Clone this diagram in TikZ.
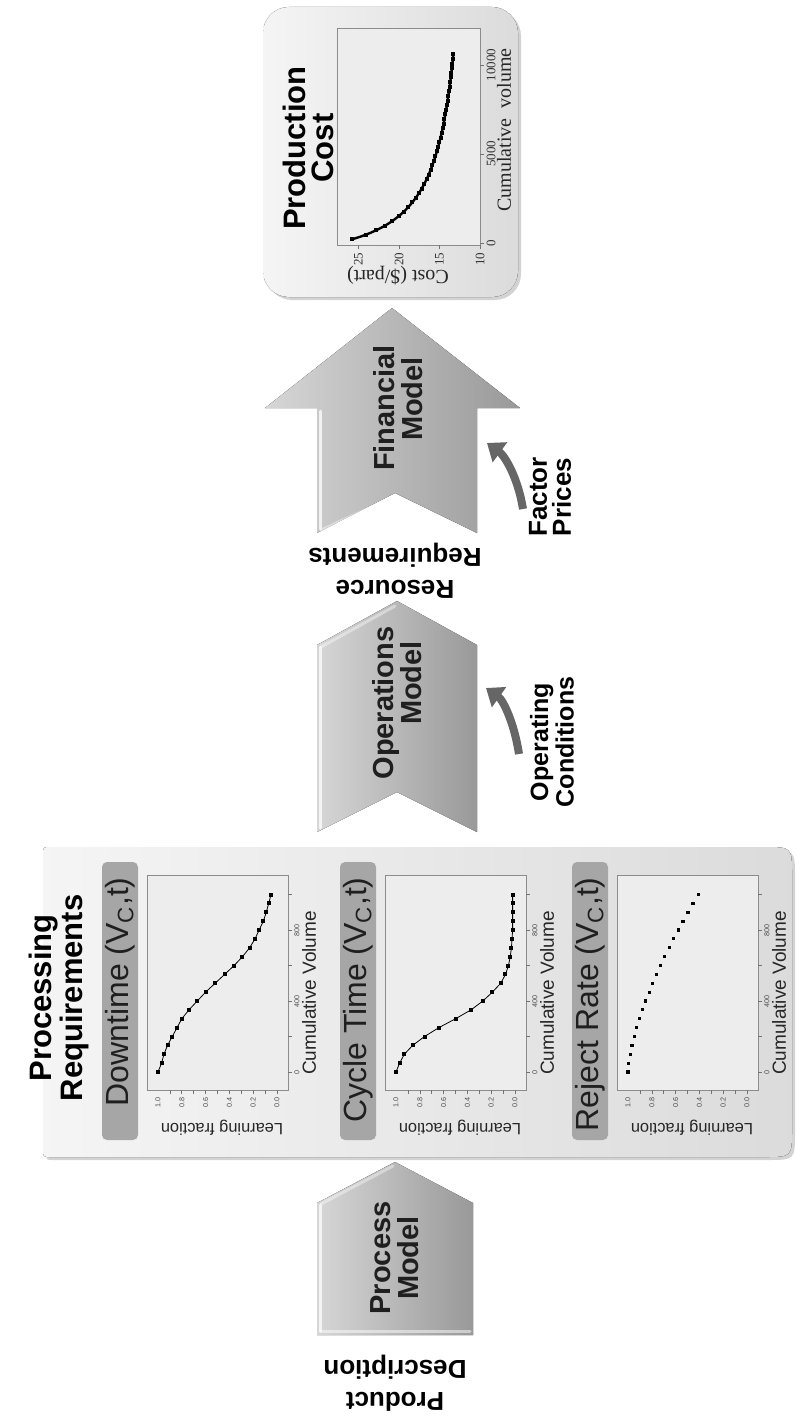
\documentclass[tikz,border=0pt]{standalone}
\usepackage{fontspec}
\setmainfont{Liberation Sans}
\newfontfamily\timesfont{Liberation Serif}
\usetikzlibrary{arrows.meta,shadows}
\definecolor{arrowlight}{gray}{0.84}
\definecolor{arrowdark}{gray}{0.60}
\definecolor{hdrgray}{gray}{0.65}
\definecolor{panellight}{gray}{0.96}
\definecolor{paneldark}{gray}{0.86}
\definecolor{curvegray}{gray}{0.40}
\definecolor{inkgray}{gray}{0.12}
\begin{document}
\begin{tikzpicture}[x=0.5pt,y=-0.5pt,
  bigarrow/.style={left color=arrowlight, right color=arrowdark, draw=none},
  bevel/.style={draw=white, line width=1.5pt, opacity=0.75, line cap=round},
  boxtitle/.style={font=\bfseries\fontsize{15.5}{14}\selectfont, align=center, rotate=90, inner sep=0pt},
  arrowtext/.style={font=\bfseries\fontsize{14.5}{14}\selectfont, align=center, rotate=90, inner sep=0pt, text=inkgray},
  flowlabel/.style={font=\bfseries\fontsize{13}{16}\selectfont, align=center, rotate=180, inner sep=0pt},
  sidelabel/.style={font=\bfseries\fontsize{12.5}{11.5}\selectfont, align=center, rotate=90, inner sep=0pt},
  hdrbar/.style={fill=hdrgray, rounded corners=2.5pt},
  hdrtext/.style={font=\fontsize{16}{16}\selectfont, rotate=90, anchor=east, inner sep=0pt, text=inkgray},
  plotframe/.style={draw=black!45, line width=0.4pt, fill=black!7},
  tickmark/.style={draw=black!55, line width=0.3pt},
  ticklabel/.style={font=\fontsize{3.6}{4}\selectfont, text=black!70, rotate=90, inner sep=0pt},
  axislabel/.style={font=\fontsize{9.5}{10}\selectfont, text=black!85, inner sep=0pt},
  serifticks/.style={font=\timesfont\fontsize{6.5}{7}\selectfont, text=black!80, rotate=90, inner sep=0pt},
  seriflabel/.style={font=\timesfont\fontsize{10}{10}\selectfont, text=black!85, inner sep=0pt},
  feed/.style={draw=curvegray, line width=4pt, -{Triangle[length=8pt,width=12pt]}},
  shadowed/.style={drop shadow={shadow xshift=1.5pt,shadow yshift=-1.5pt,opacity=0.35}}
]
\useasboundingbox (0,0) rectangle (797,1423);

% ---------------- Production Cost box ----------------
\fill[shadowed, left color=panellight, right color=paneldark, rounded corners=13pt] (263,7) rectangle (518,297);
\node[boxtitle] (pctitle) at (308,148) {Production\\Cost};
\filldraw[plotframe] (337,28) rectangle (480,245);
\foreach \c/\t in {25/25,20/20,15/15,10/10}{
  \draw[tickmark] ({480-(\c-10)*8.1},245) -- ({480-(\c-10)*8.1},249);
  \node[serifticks] at ({480-(\c-10)*8.1},259) {\t};
}
\foreach \yy/\t in {243/0,154/5000,65/10000}{
  \draw[tickmark] (480,\yy) -- (484,\yy);
  \node[serifticks] at (491,\yy) {\t};
}
\node[seriflabel, rotate=180] (costlab) at (398,276) {Cost (\$/part)};
\node[seriflabel, rotate=90] (cvlab) at (504,130) {Cumulative\ \ volume};
\draw[line width=1.2pt] plot[domain=200:10600, samples=60, smooth]
  ({480-141.75*exp(-0.8*ln(1+\x/1500))},{243-0.0178*\x});
\foreach \v in {200,460,...,10600}{
  \fill ({480-141.75*exp(-0.8*ln(1+\v/1500))-2},{243-0.0178*\v-2}) rectangle ++(4,4);
}

% ---------------- Financial Model arrow ----------------
\fill[bigarrow] (317,533) -- (317,408) -- (265,408) -- (392,308) -- (520,408) -- (477,408) -- (477,533) -- (395,493) -- cycle;
\draw[bevel] (320,529) -- (320,411);
\draw[bevel, opacity=0.4] (321,530) -- (395,496);
\node[arrowtext] (fin) at (398,408) {Financial\\\hspace*{9pt}Model};

% Factor Prices
\node[sidelabel, font=\bfseries\fontsize{13}{12}\selectfont] (fp) at (550,497) {Factor\\Prices};
\coordinate (fptail) at (523,509);
\coordinate (fphead) at (487,443);
\draw[feed] (fptail) .. controls (518,478) and (505,456) .. (fphead);

% Resource Requirements
\node[flowlabel] (rr) at (395,571) {Resource\\Requirements};

% ---------------- Operations Model arrow ----------------
\fill[bigarrow] (317,832) -- (317,645) -- (397,601) -- (477,645) -- (477,832) -- (397,792) -- cycle;
\draw[bevel] (320,828) -- (320,647);
\draw[bevel, opacity=0.4] (321,647) -- (395,606);
\node[arrowtext] (ops) at (397,703) {Operations\\\hspace*{20pt}Model};

% Operating Conditions
\node[sidelabel] (oc) at (552,742) {Operating\\Conditions};
\coordinate (octail) at (519,754);
\coordinate (ochead) at (486,688);
\draw[feed] (octail) .. controls (514,722) and (503,700) .. (ochead);

% ---------------- Processing Requirements panel ----------------
\fill[shadowed, left color=panellight, right color=paneldark]
  (51,847) -- (764,847) .. controls (792,847) .. (792,875) -- (792,1129)
  .. controls (792,1157) .. (764,1157) -- (51,1157) .. controls (43,1157) .. (43,1149)
  -- (43,855) .. controls (43,847) .. (51,847) -- cycle;
\node[boxtitle, font=\bfseries\fontsize{15.5}{14}\selectfont] (prtitle) at (59,998) {Processing\\Requirements};

\foreach \off/\nm/\lab in {0/dt/Downtime, 238/ct/Cycle Time, 470/rj/Reject Rate}{
  \fill[hdrbar] (102+\off,862) rectangle (138+\off,1140);
  \node[hdrtext] (hdr\nm) at (120+\off,877) {\lab\ (V\textsubscript{C},t)};
  \filldraw[plotframe] (147+\off,875) rectangle (288+\off,1090);
  \foreach \f in {0,0.1,...,1.0}{
    \draw[tickmark] ({277-119*\f+\off},1090) -- ({277-119*\f+\off},1094);
  }
  \foreach \f/\t in {1.0/1.0,0.8/0.8,0.6/0.6,0.4/0.4,0.2/0.2,0.0/0.0}{
    \node[ticklabel] at ({277-119*\f+\off},1102) {\t};
  }
  \foreach \v in {0,200,...,1000}{
    \draw[tickmark] (288+\off,{1072-0.1775*\v}) -- (292+\off,{1072-0.1775*\v});
  }
  \foreach \v in {0,400,800}{
    \node[ticklabel] at (297+\off,{1072-0.1775*\v}) {\v};
  }
  \node[axislabel, rotate=90] (cv\nm) at (309+\off,993) {Cumulative Volume};
  \node[axislabel, rotate=180, font=\fontsize{8.2}{9}\selectfont] (lf\nm) at (222+\off,1128) {Learning fraction};
}

% Downtime data
\draw[line width=0.4pt] (158,1072) \foreach \v/\f in {50/0.97,100/0.95,150/0.92,200/0.88,250/0.84,300/0.80,350/0.74,400/0.67,450/0.60,500/0.52,550/0.44,600/0.36,650/0.29,700/0.23,750/0.185,800/0.15,850/0.115,900/0.09,950/0.07,1000/0.05}{ -- ({277-119*\f},{1072-0.1775*\v}) };
\foreach \v/\f in {0/1.0,50/0.97,100/0.95,150/0.92,200/0.88,250/0.84,300/0.80,350/0.74,400/0.67,450/0.60,500/0.52,550/0.44,600/0.36,650/0.29,700/0.23,750/0.185,800/0.15,850/0.115,900/0.09,950/0.07,1000/0.05}{
  \fill ({277-119*\f-2},{1072-0.1775*\v-2}) rectangle ++(4,4);
}
% Cycle time data
\draw[line width=0.4pt] (396,1072) \foreach \v/\f in {50/0.97,100/0.93,150/0.86,200/0.76,250/0.64,300/0.50,350/0.37,400/0.27,450/0.19,500/0.12,550/0.08,600/0.055,650/0.04,700/0.03,750/0.025,800/0.02,850/0.02,900/0.02,950/0.02,1000/0.02}{ -- ({277-119*\f+238},{1072-0.1775*\v}) };
\foreach \v/\f in {0/1.0,50/0.97,100/0.93,150/0.86,200/0.76,250/0.64,300/0.50,350/0.37,400/0.27,450/0.19,500/0.12,550/0.08,600/0.055,650/0.04,700/0.03,750/0.025,800/0.02,850/0.02,900/0.02,950/0.02,1000/0.02}{
  \fill ({277-119*\f+238-2},{1072-0.1775*\v-2}) rectangle ++(4,4);
}
% Reject rate data
\foreach \v in {0,50,...,1000}{
  \pgfmathsetmacro\fr{1-0.59*(\v/1000)*sqrt(\v/1000)}
  \fill ({277-119*\fr+470-1.6},{1072-0.1775*\v-1.6}) rectangle ++(3.2,3.2);
}

% ---------------- Process Model arrow ----------------
\fill[bigarrow] (317,1335) -- (317,1203) -- (395,1162) -- (473,1203) -- (473,1335) -- cycle;
\draw[bevel] (320,1331) -- (320,1205);
\draw[bevel, opacity=0.5] (320,1331) -- (470,1331);
\draw[bevel, opacity=0.4] (321,1204) -- (393,1166);
\node[arrowtext] (proc) at (395,1258) {Process\\Model};

% Product Description
\node[flowlabel] (pd) at (395,1383) {Product\\Description};

\end{tikzpicture}
\end{document}
